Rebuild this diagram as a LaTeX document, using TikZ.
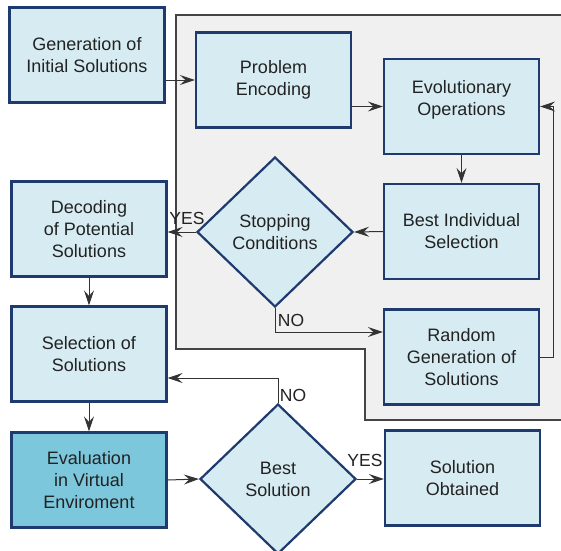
\documentclass[tikz,border=0pt]{standalone}
\usepackage{fontspec}
\setmainfont{Liberation Sans}
\usetikzlibrary{shapes.geometric,arrows.meta}
\definecolor{boxfill}{HTML}{D7ECF2}
\definecolor{boxdraw}{HTML}{1E3A6E}
\definecolor{evalfill}{HTML}{7DC7DC}
\definecolor{regfill}{HTML}{F0F0F0}
\definecolor{regdraw}{HTML}{444444}
\definecolor{linecol}{HTML}{333333}
\definecolor{txt}{HTML}{222222}
\begin{document}
\begin{tikzpicture}[x=1pt,y=-1pt,
  box/.style={draw=boxdraw,fill=boxfill,line width=2.2pt,minimum width=155pt,minimum height=95pt,
    inner sep=0pt,align=center,text=txt,font=\fontsize{18}{22}\selectfont},
  evalbox/.style={box,fill=evalfill},
  dia/.style={diamond,draw=boxdraw,fill=boxfill,line width=2.2pt,minimum width=156pt,minimum height=150pt,
    inner sep=0pt,align=center,text=txt,font=\fontsize{18}{22}\selectfont},
  conn/.style={draw=linecol,line width=1pt,-{Stealth[length=15pt,width=10pt,inset=5.5pt]}},
  lab/.style={text=txt,font=\fontsize{17.5}{20}\selectfont,inner sep=0pt}]
\clip (0,0) rectangle (561,550);
\fill[white] (0,0) rectangle (561,550);
% gray region
\draw[fill=regfill,draw=regdraw,line width=1.2pt] (176,15) -- (575,15) -- (575,420) -- (365,420) -- (365,349) -- (176,349) -- cycle;
% nodes
\node[box] (gen) at (87,55) {Generation of\\Initial Solutions};
\node[box] (pe) at (273.5,80) {Problem\\Encoding};
\node[box] (eo) at (461.5,106.5) {Evolutionary\\Operations\\[-4pt]\mbox{}};
\node[box] (bis) at (461.5,231.5) {Best Individual\\Selection};
\node[box] (rg) at (461.5,357) {Random\\Generation of\\Solutions};
\node[box] (dec) at (89,229) {Decoding\\of Potential\\Solutions};
\node[box] (sel) at (89,354) {Selection of\\Solutions};
\node[evalbox] (ev) at (89,480) {Evaluation\\in Virtual\\Enviroment};
\node[box] (so) at (462.5,478) {Solution\\Obtained};
\node[dia] (sc) at (275,232) {Stopping\\Conditions};
\node[dia] (bs) at (278,479) {Best\\Solution};
% connectors
\draw[conn] (pe.west -| gen.east) -- (pe.west);
\draw[conn] (eo.west -| pe.east) -- (eo.west);
\draw[conn] (eo.south) -- (bis.north);
\draw[conn] (bis.west) -- (sc.east);
\draw[conn] (sc.west) -- (sc.west -| dec.east);
\draw[conn] (sc.south) |- ([yshift=25pt]rg.west);
\draw[conn] (rg.east) -- ++(13,0) |- (eo.east);
\draw[conn] (dec.south) -- (sel.north);
\draw[conn] (sel.south) -- (ev.north);
\draw[conn] (ev.east) -- (bs.west);
\draw[conn] (bs.north) |- ([yshift=-24pt]sel.east);
\draw[conn] (bs.east) -- (bs.east -| so.west);
% labels
\node[lab] (l1) at (187,218) {YES};
\node[lab] (l2) at (291,320) {NO};
\node[lab] (l3) at (293,395) {NO};
\node[lab] (l4) at (365,460) {YES};
\end{tikzpicture}
\end{document}
